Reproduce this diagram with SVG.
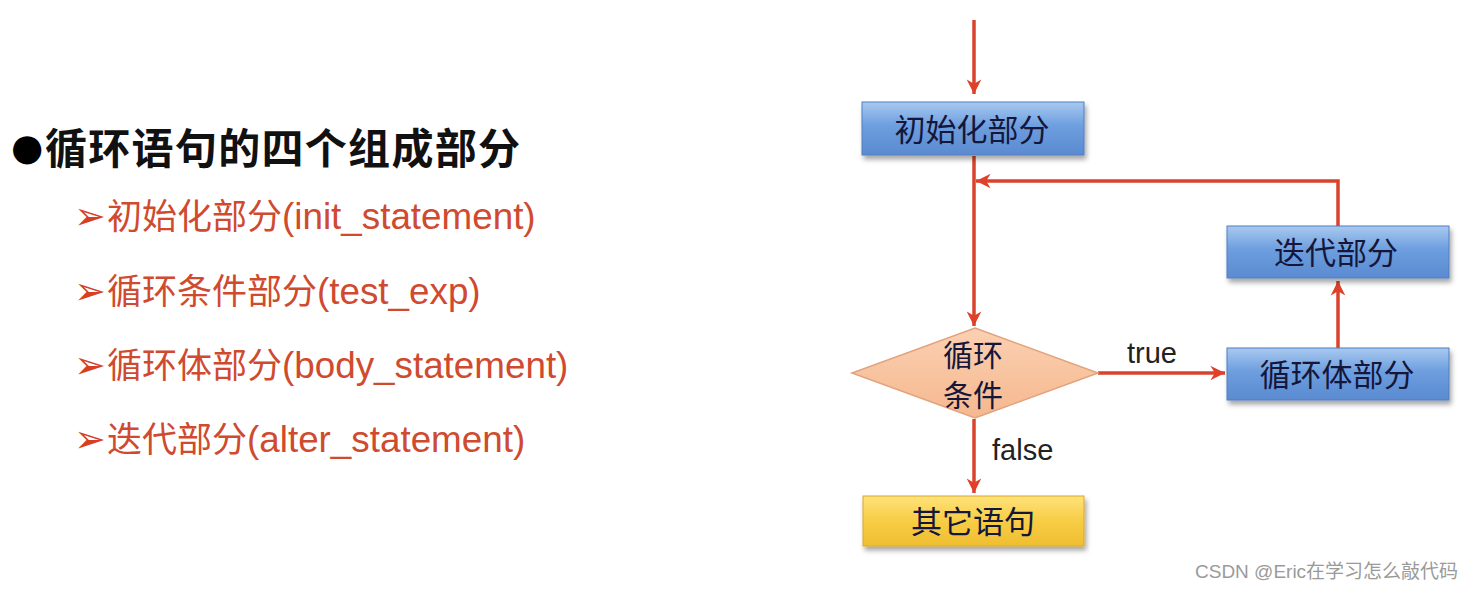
<svg xmlns="http://www.w3.org/2000/svg" width="1472" height="590" viewBox="0 0 1472 590">
<style>
.title{font-family:"Noto Sans CJK SC","Liberation Sans",sans-serif;font-size:42px;font-weight:bold;fill:#111}
.dot{font-family:"DejaVu Sans",sans-serif;font-size:37px;fill:#000}
.item{font-family:"Liberation Sans","Noto Sans CJK SC",sans-serif;font-size:35px;fill:#cf4a2e}
.lat{font-size:36.8px}
.bul{font-family:"DejaVu Sans",sans-serif;font-size:38px;fill:#d63e25}
.box{font-family:"Noto Sans CJK SC",sans-serif;font-size:31px;fill:#14163a;text-anchor:middle}
.dia{font-family:"Noto Sans CJK SC",sans-serif;font-size:30px;fill:#14163a;text-anchor:middle}
.lbl{font-family:"Liberation Sans",sans-serif;font-size:29px;fill:#222}
.wm{font-family:"Liberation Sans","Noto Sans CJK SC",sans-serif;font-size:19px;fill:#9a9a9a}
.conn{stroke:#d9432c;stroke-width:3.5;fill:none}
</style>
<defs>
<linearGradient id="gBlue" x1="0" y1="0" x2="0" y2="1">
<stop offset="0" stop-color="#a9c9f0"/><stop offset="0.45" stop-color="#6d9edf"/><stop offset="1" stop-color="#5a8ad0"/>
</linearGradient>
<linearGradient id="gYel" x1="0" y1="0" x2="0" y2="1">
<stop offset="0" stop-color="#ffe27a"/><stop offset="0.5" stop-color="#f7cd45"/><stop offset="1" stop-color="#efbe30"/>
</linearGradient>
<linearGradient id="gDia" x1="0" y1="0" x2="0" y2="1">
<stop offset="0" stop-color="#fbd0b2"/><stop offset="1" stop-color="#f5b88f"/>
</linearGradient>
<filter id="sh" x="-10%" y="-20%" width="125%" height="150%">
<feDropShadow dx="2" dy="4" stdDeviation="2.5" flood-color="#000" flood-opacity="0.35"/>
</filter>
<marker id="arr" viewBox="0 0 12 12" refX="11" refY="6" markerWidth="5" markerHeight="5" markerUnits="strokeWidth" orient="auto">
<path d="M1,1 L11,6 L1,11 L4,6 Z" fill="#e0402a"/>
</marker>
</defs>

<g id="heading">
<text class="dot" x="11" y="160">●</text>
<text class="title" x="45" y="164" letter-spacing="1.3">循环语句的四个组成部分</text>
</g>
<g id="items">
<text y="229"><tspan class="bul" x="74">➢</tspan><tspan class="item" x="107">初始化部分<tspan class="lat">(init_statement)</tspan></tspan></text>
<text y="304"><tspan class="bul" x="74">➢</tspan><tspan class="item" x="107">循环条件部分<tspan class="lat">(test_exp)</tspan></tspan></text>
<text y="378"><tspan class="bul" x="74">➢</tspan><tspan class="item" x="107">循环体部分<tspan class="lat">(body_statement)</tspan></tspan></text>
<text y="452"><tspan class="bul" x="74">➢</tspan><tspan class="item" x="107">迭代部分<tspan class="lat">(alter_statement)</tspan></tspan></text>
</g>

<g id="connectors">
<line class="conn" x1="974" y1="20" x2="974" y2="94" marker-end="url(#arr)"/>
<line class="conn" x1="974" y1="156" x2="974" y2="326" marker-end="url(#arr)"/>
<polyline class="conn" points="1338,226 1338,181 976,181" marker-end="url(#arr)"/>
<line class="conn" x1="1338" y1="348" x2="1338" y2="281" marker-end="url(#arr)"/>
<line class="conn" x1="1098" y1="373" x2="1225" y2="373" marker-end="url(#arr)"/>
<line class="conn" x1="974" y1="419" x2="974" y2="493" marker-end="url(#arr)"/>
<text class="lbl" x="1127" y="363">true</text>
<text class="lbl" x="992" y="460">false</text>
</g>

<g id="init">
<rect x="862" y="102" width="222" height="53" fill="url(#gBlue)" stroke="#4f7fc0" stroke-width="1" filter="url(#sh)"/>
<text class="box" x="972" y="141">初始化部分</text>
</g>
<g id="iter">
<rect x="1227" y="226" width="222" height="52" fill="url(#gBlue)" stroke="#4f7fc0" stroke-width="1" filter="url(#sh)"/>
<text class="box" x="1336" y="264">迭代部分</text>
</g>
<g id="body">
<rect x="1227" y="348" width="222" height="52" fill="url(#gBlue)" stroke="#4f7fc0" stroke-width="1" filter="url(#sh)"/>
<text class="box" x="1337" y="386">循环体部分</text>
</g>
<g id="cond">
<polygon points="975,328 1098,373 975,418 852,373" fill="url(#gDia)" stroke="#e2a27c" stroke-width="1.5"/>
<text class="dia" x="973" y="366">循环</text>
<text class="dia" x="973" y="406">条件</text>
</g>
<g id="other">
<rect x="863" y="496" width="221" height="50" fill="url(#gYel)" stroke="#d9a82a" stroke-width="1" filter="url(#sh)"/>
<text class="box" x="973" y="533">其它语句</text>
</g>

<text class="wm" x="1195" y="578">CSDN @Eric在学习怎么敲代码</text>
</svg>
